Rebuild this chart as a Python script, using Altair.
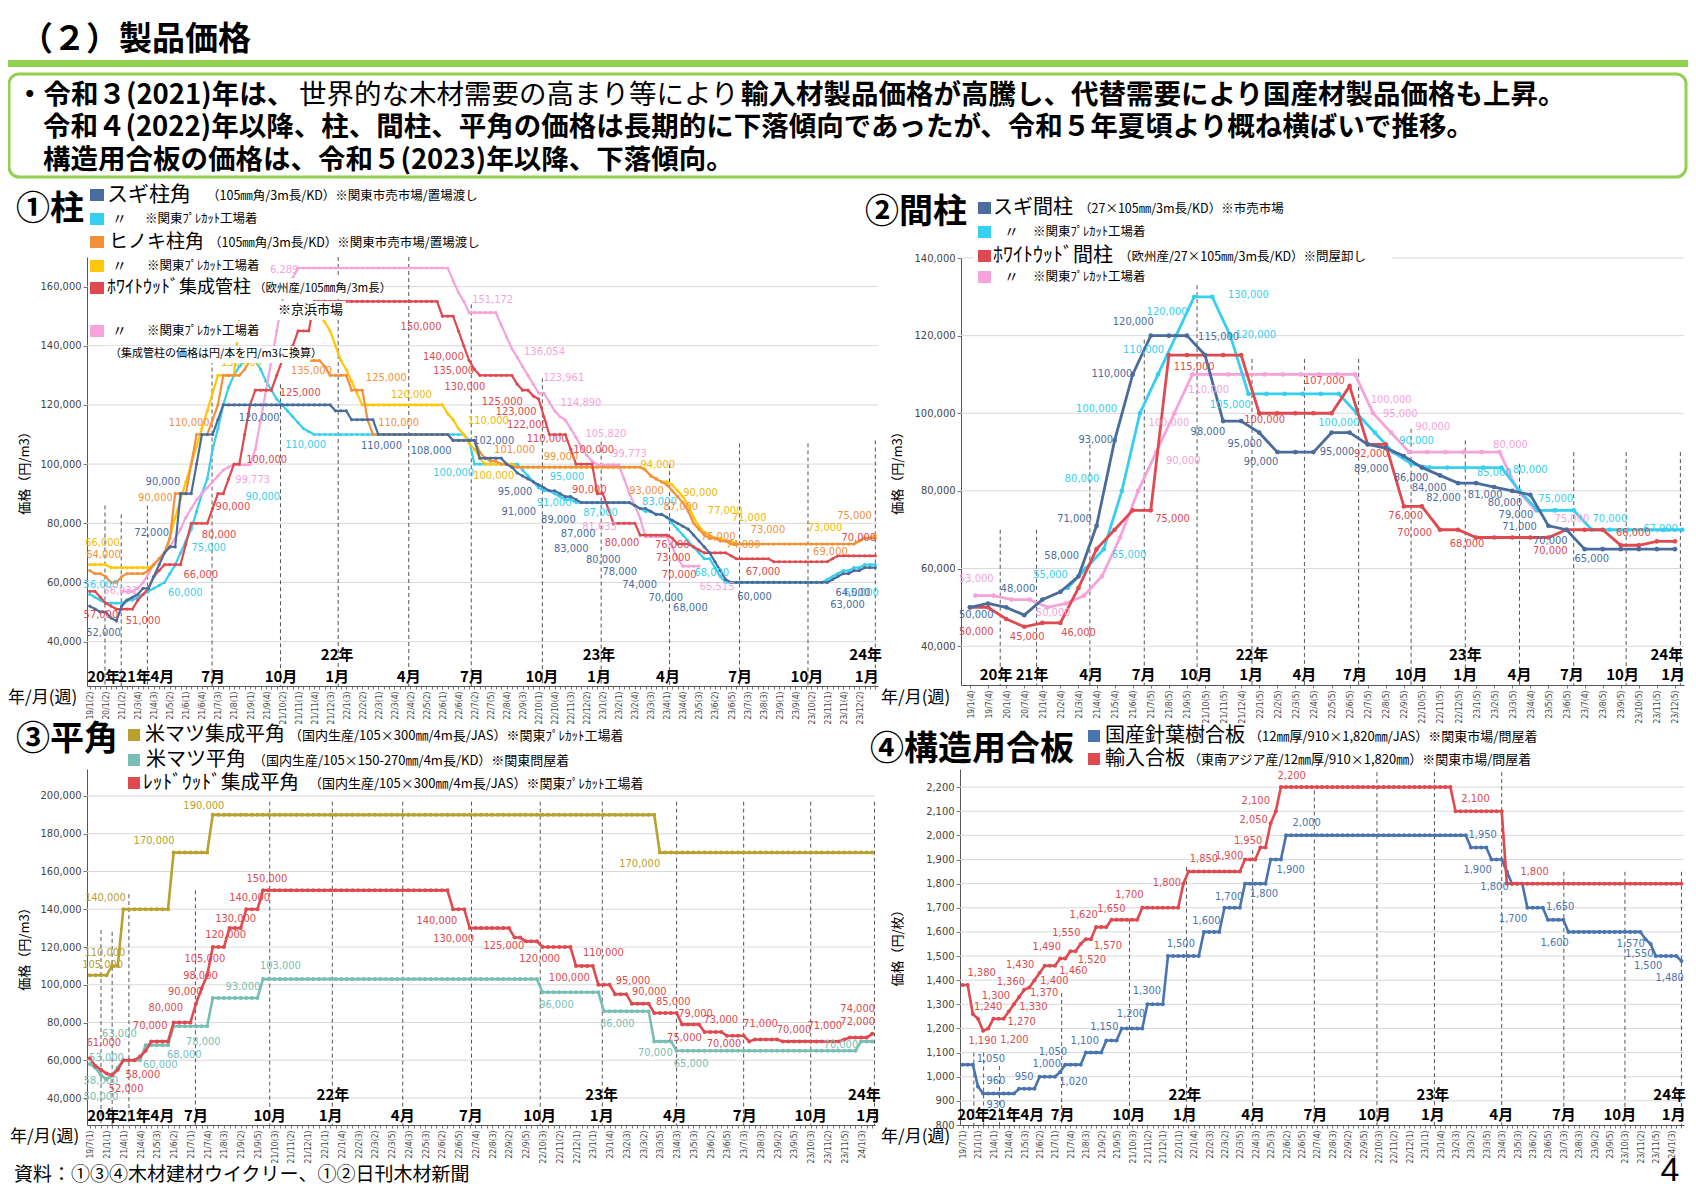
import altair as alt
import pandas as pd

W, H = 1680, 1183
JP = "Noto Sans CJK JP"
NUM = "Liberation Sans Narrow, DejaVu Sans Condensed, Liberation Sans, Arial, sans-serif"
ONE = alt.Data(values=[{"k": 0}])

# ---------------- x-axis tick labels (weekly / monthly categories) ----------------
p1_ticks = ["19/1(2)","20/1(2)","21/1(2)","21/3(4)","21/4(3)","21/5(2)","21/6(1)","21/6(4)","21/7(3)","21/8(1)",
            "21/9(1)","21/9(4)","21/10(2)","21/11(1)","21/11(4)","21/12(3)","22/1(3)","22/2(2)","22/3(1)","22/3(4)",
            "22/4(2)","22/5(2)","22/6(1)","22/6(4)","22/7(2)","22/7(5)","22/8(4)","22/9(3)","22/10(1)","22/10(4)",
            "22/11(3)","22/12(2)","23/1(2)","23/2(1)","23/2(4)","23/3(3)","23/4(1)","23/4(4)","23/5(3)","23/6(2)",
            "23/6(5)","23/7(3)","23/8(3)","23/9(1)","23/9(4)","23/10(2)","23/11(1)","23/11(4)","23/12(2)"]
p2_ticks = ["19/1(4)","19/7(4)","20/1(4)","20/7(4)","21/1(4)","21/2(4)","21/3(4)","21/4(4)","21/5(4)","21/6(4)",
            "21/7(5)","21/8(5)","21/9(5)","21/10(5)","21/11(5)","21/12(4)","22/1(5)","22/2(5)","22/3(5)","22/4(5)",
            "22/5(5)","22/6(5)","22/7(5)","22/8(5)","22/9(5)","22/10(5)","22/11(5)","22/12(5)","23/1(5)","23/2(5)",
            "23/3(5)","23/4(4)","23/5(5)","23/6(5)","23/7(4)","23/8(5)","23/9(5)","23/10(5)","23/11(5)","23/12(5)"]
p34_ticks = ["19/7(1)","21/1(1)","21/4(1)","21/4(4)","21/5(3)","21/6(2)","21/7(1)","21/7(4)","21/8(3)","21/9(2)",
             "21/9(5)","21/10(3)","21/11(2)","21/12(1)","22/1(1)","22/1(4)","22/2(3)","22/3(2)","22/3(5)","22/4(3)",
             "22/5(3)","22/6(2)","22/6(5)","22/7(4)","22/8(3)","22/9(2)","22/9(5)","22/10(3)","22/11(2)","22/12(1)",
             "23/1(1)","23/1(4)","23/2(3)","23/3(2)","23/3(5)","23/4(3)","23/5(3)","23/6(2)","23/6(5)","23/7(3)",
             "23/8(3)","23/9(2)","23/9(5)","23/10(3)","23/11(2)","23/11(5)","24/1(3)"]

months_txt = ["20年","21年","4月","7月","10月","1月","4月","7月","10月","1月","4月","7月","10月","1月"]
years_txt = ["22年","23年","24年"]
p1_month_at = [2.6,8.4,13.6,23.1,35.8,46.3,59.7,71.5,84.6,95.3,108.2,121.7,134.2,145.4]
p1_year_at = [46.3,95.3,145.2]
p2_month_at = [1.44,3.43,6.7,9.6,12.5,15.55,18.5,21.3,24.4,27.4,30.4,33.3,36.1,38.9]
p2_year_at = [15.6,27.4,38.55]
p3_month_at = [2.45,8.0,13.0,19.0,32.2,43.1,56.0,68.2,80.5,91.6,104.7,117.2,129.0,139.3]
p3_year_at = [43.5,91.6,138.6]
p4_month_at = [2.13,8.17,13.6,19.5,32.4,43.3,56.6,68.7,80.2,91.6,104.9,117.1,128.0,138.5]
p4_year_at = [43.3,91.6,137.7]

# dashed month separators: category position and top value
p1_dash_x = [2.86,5.9,10.8,22.9,35.7,46.5,59.7,71.4,84.7,95.7,108.5,121.6,134.4,147.0]
p1_dash_top = [86,83,86,135,127,170,170,154,129,107.6,100,107,107,108]
p2_dash_x = [1.67,3.68,6.63,9.64,12.56,15.6,18.5,21.5,24.4,27.4,30.4,33.4,36.3,39.3]
p2_dash_top = [70,70,92,119,133,114,114,114,96,93,87,90,90,90]
p3_dash_x = [2.0,4.0,7.0,18.9,32.2,43.4,56.0,68.3,80.6,91.7,105.0,117.0,129.0,140.4]
p3_dash_top = [129,128,148,150,197,197,197,197,197,197,197,197,197,197]
p4_dash_x = [2.2,4.1,7.2,19.3,32.5,43.6,56.5,68.5,80.7,91.9,105.0,117.1,129.0,140.0]
p4_dash_top = [1100,1100,1044,1347,1650,1870,1939,2186,2262,2262,2262,1849,1849,1849]

# ---------------- ① 柱 (千円/m3, weekly; [value, number of weeks]) ----------------
p1_sugi_ichiba = [(52,1),(51,1),(50,2),(48,1),(47,1),(52,1),(54,1),(55,1),(56,1),(58,2),(62,1),(66,1),(70,1),(72,2),
                  (90,3),(100,1),(110,3),(115,1),(120,21),(118,3),(115,5),(110,14),(108,5),(102,5),
                  (100,1),(99,1),(97,1),(96,1),(95,1),(94,1),(93,1),(92,1),(91,2),(90,1),(89,2),(88,1),(87,10),
                  (86,1),(85,2),(84,1),(83,2),(82,1),(81,1),(80,1),(79,1),(78,1),(76,1),(74,1),(72,1),(70,1),(67,1),
                  (64,1),(61,1),(60,19),(61,1),(62,1),(63,2),(64,2),(65,3)]
p1_sugi_precut = [(56,1),(55,1),(54,1),(53,4),(54,2),(55,1),(56,1),(57,1),(58,1),(59,1),
                  (60,1),(63,1),(66,1),(70,1),(74,1),(78,1),(84,1),(90,1),(95,1),(105,1),(112,1),(120,1),(126,1),
                  (130,1),(133,1),(135,3),(132,1),(128,1),(125,1),(122,1),(120,1),(118,1),(116,1),(114,1),(112,1),
                  (111,1),(110,29),(108,1),(100,9),(98,1),(96,1),(94,1),(92,1),(91,2),(90,1),(89,1),(88,2),(87,11),
                  (86,1),(85,1),(84,2),(83,2),(82,1),(80,1),(78,1),(76,1),(74,1),(72,1),(70,1),(68,2),(65,1),(62,1),
                  (60,19),(61,1),(62,1),(63,1),(64,2),(65,2),(66,3)]
p1_hinoki_ichiba = [(64,1),(63,2),(62,1),(60,2),(62,1),(63,4),(64,1),(66,1),(68,1),(70,1),
                    (75,1),(90,3),(100,1),(110,3),(115,1),(120,1),(130,4),(132,1),(135,14),(133,1),(130,4),(125,3),
                    (115,1),(110,15),(108,5),(104,1),(102,1),(101,2),(100,2),(99,25),
                    (98,1),(96,1),(95,1),(94,1),(93,1),(91,1),(89,1),(87,1),(84,1),(80,1),(78,1),(76,1),(75,2),(74,2),
                    (73,24),(74,1),(75,3)]
p1_hinoki_precut = [(66,4),(65,8),(66,1),(68,1),(70,1),(75,1),(82,1),(88,1),(94,1),(100,1),(106,1),(112,1),(118,1),
                    (124,1),(130,4),(150,16),(148,1),(145,1),(140,1),(135,1),(132,1),(128,1),(124,1),(120,16),
                    (117,1),(115,1),(112,1),(110,1),(107,1),(105,1),(102,1),(100,6),(99,24),
                    (98,1),(96,1),(95,1),(94,2),(93,1),(91,1),(89,1),(86,1),(82,1),(79,1),(77,1),(76,1),(75,2),(74,2),
                    (73,23),(74,1),(75,2),(76,1)]
p1_ww_keihin = [(57,2),(55,1),(53,1),(52,1),(51,4),(54,1),(56,1),(58,1),(62,1),(64,1),(66,4),
                (73,1),(80,4),(85,1),(90,2),(95,1),(100,2),(110,1),(120,1),(125,4),(130,1),(135,2),(140,1),(145,3),
                (155,24),(150,3),(145,1),(140,1),(135,1),(132,1),(130,7),(127,1),(125,2),(123,1),(122,1),(116,1),
                (110,4),(105,1),(100,4),(90,2),(85,1),(80,5),(76,6),
                (75,1),(73,3),(72,1),(71,1),(70,5),(69,1),(68,7),(67,11),(68,1),(69,8)]
p1_ww_precut = [(57,3),(58,1),(60,1),(63,1),(66,1),(68,1),(70,1),(72,1),(75,1),(78,1),(82,1),(85,1),(88,1),(90,1),
                (92,1),(94,1),(96,1),(98,1),(99,1),(99.773,4),(105,1),(115,1),(125,1),(135,1),(145,1),(155,1),
                (160,1),(163,1),(166.289,29),(162,1),(158,1),(155,1),(151.172,6),(147,1),(143,1),(139,1),
                (136.054,1),(133,1),(130,1),(127,1),(124,1),(123.961,1),(121,1),(118,1),(116,1),(114.89,1),
                (112,1),(109,1),(105.82,1),(103,1),(101,1),(99.773,5),(95,1),(90,1),(86,1),(81.633,1),
                (75.51,5),(72,1),(68,1),(65.515,4)]

p1_sugi_ichiba_lab = [(2.6,43.0,"52,000"),(11.6,76.8,"72,000"),(13.7,94.1,"90,000"),(31.7,115.5,"120,000"),
                      (54.6,106.1,"110,000"),(63.9,104.5,"108,000"),(75.6,107.9,"102,000"),(79.6,90.5,"95,000"),
                      (80.3,83.9,"91,000"),(87.7,81.1,"89,000"),(91.4,76.3,"87,000"),(90.1,71.3,"83,000"),
                      (96.1,67.6,"80,000"),(99.2,63.7,"78,000"),(102.9,59.2,"74,000"),(107.8,54.9,"70,000"),
                      (112.4,51.3,"68,000"),(124.4,55.2,"60,000"),(142.8,56.3,"64,000"),(141.8,52.4,"63,000")]
p1_sugi_precut_lab = [(2.1,59.2,"56,000"),(17.9,56.3,"60,000"),(22.3,71.5,"75,000"),(32.4,89.0,"90,000"),
                      (40.4,106.5,"110,000"),(68.1,97.1,"100,000"),(89.3,95.8,"95,000"),(86.9,86.8,"91,000"),
                      (95.6,83.4,"87,000"),(106.6,87.3,"83,000"),(116.4,63.1,"68,000"),(144.4,56.3,"65,000")]
p1_hinoki_ichiba_lab = [(2.6,69.3,"64,000"),(12.3,88.7,"90,000"),(18.6,114.0,"110,000"),(41.5,131.3,"135,000"),
                        (55.5,129.0,"125,000"),(57.8,113.8,"110,000"),(79.5,104.6,"101,000"),(88.2,102.3,"99,000"),
                        (104.2,91.0,"93,000"),(110.6,85.6,"87,000"),(117.6,75.3,"75,000"),(122.3,72.7,"74,000"),
                        (126.9,77.7,"73,000"),(138.6,70.4,"69,000"),(143.1,82.3,"75,000")]
p1_hinoki_precut_lab = [(2.4,73.2,"66,000"),(28.4,134.1,"130,000"),(60.2,123.2,"120,000"),(74.6,114.7,"110,000"),
                        (75.6,96.0,"100,000"),(106.3,99.7,"94,000"),(114.3,90.4,"90,000"),(118.9,84.2,"77,000"),
                        (123.4,81.7,"71,000"),(137.6,78.3,"73,000")]
p1_ww_keihin_lab = [(2.1,49.0,"57,000"),(10.0,47.1,"51,000"),(20.8,62.5,"66,000"),(24.2,76.1,"80,000"),
                    (26.8,85.6,"90,000"),(33.1,101.4,"100,000"),(39.4,124.2,"125,000"),(62.0,146.5,"150,000"),
                    (66.2,136.3,"140,000"),(68.1,131.3,"135,000"),(70.2,126.2,"130,000"),(77.2,121.1,"125,000"),
                    (79.8,117.5,"123,000"),(81.9,113.2,"122,000"),(85.6,108.4,"110,000"),(94.3,104.8,"100,000"),
                    (93.5,91.3,"90,000"),(99.6,73.5,"80,000"),(109.0,72.7,"76,000"),(109.2,68.2,"73,000"),
                    (110.3,62.5,"70,000"),(126.0,63.7,"67,000"),(143.9,74.9,"70,000")]
p1_ww_precut_lab = [(35.2,165.6,"166,289"),(75.4,155.5,"151,172"),(85.1,138.0,"136,054"),(88.7,129.0,"123,961"),
                    (91.9,120.6,"114,890"),(96.6,110.1,"105,820"),(101.0,103.4,"99,773"),(30.5,94.6,"99,773"),
                    (95.4,78.9,"81,633"),(117.4,58.3,"65,515"),(5.8,57.2,"56,931")]

# ---------------- ② 間柱 (千円/m3, monthly) ----------------
p2_sugi_ichiba = [(50,1),(51,1),(50,1),(48,1),(52,1),(54,1),(58,1),(71,1),(93,1),(110,1),(120,3),(115,1),(98,2),
                  (95,1),(90,3),(95,2),(92,1),(91,1),(89,1),(86,1),(84,1),(82,2),(81,1),(80,1),(79,1),(71,1),
                  (70,1),(65,6)]
p2_sugi_precut = [(55,1),(60,1),(65,1),(80,1),(100,1),(110,1),(120,1),(130,2),(120,1),(105,6),(100,1),(95,1),
                  (90,1),(87,1),(86,5),(80,1),(75,3),(70,6)]
p2_ww_ton = [(50,2),(47,1),(45,1),(46,2),(55,1),(65,1),(70,1),(75,2),(115,5),(100,5),(107,1),(92,2),(76,2),
             (70,2),(68,5),(70,3),(66,2),(67,2)]
p2_ww_precut = [(53,2),(52,2),(50,1),(51,1),(53,1),(58,1),(68,1),(80,1),(90,1),(100,1),(110,10),(100,1),(95,1),
                (90,6),(80,1),(75,2)]

p2_sugi_ichiba_lab = [(0.35,48.0,"50,000"),(2.65,54.8,"48,000"),(5.07,63.3,"58,000"),(5.78,72.8,"71,000"),
                      (6.96,93.2,"93,000"),(7.85,110.2,"110,000"),(9.03,123.4,"120,000"),(13.75,119.6,"115,000"),
                      (13.16,95.3,"98,000"),(15.2,92.1,"95,000"),(16.1,87.4,"90,000"),(20.3,90.0,"95,000"),
                      (22.2,85.7,"89,000"),(24.4,83.3,"86,000"),(25.4,80.8,"84,000"),(26.2,78.2,"82,000"),
                      (28.5,79.0,"81,000"),(29.6,76.9,"80,000"),(30.2,73.9,"79,000"),(30.4,70.7,"71,000"),
                      (32.1,67.0,"70,000"),(34.4,62.5,"65,000")]
p2_sugi_precut_lab = [(4.45,58.4,"55,000"),(8.8,63.6,"65,000"),(6.2,83.1,"80,000"),(7.0,101.1,"100,000"),
                      (9.6,116.4,"110,000"),(10.9,126.2,"120,000"),(15.4,130.5,"130,000"),(15.8,120.2,"120,000"),
                      (14.4,102.2,"105,000"),(20.4,97.5,"100,000"),(24.7,92.8,"90,000"),(29.0,84.6,"85,000"),
                      (31.0,85.5,"80,000"),(32.4,77.9,"75,000"),(35.4,72.8,"70,000"),(38.2,70.2,"67,000")]
p2_ww_ton_lab = [(0.35,43.6,"50,000"),(3.16,42.4,"45,000"),(6.0,43.4,"46,000"),(11.2,72.8,"75,000"),
                 (12.4,111.9,"115,000"),(16.3,98.2,"100,000"),(19.6,108.2,"107,000"),(22.2,89.6,"92,000"),
                 (24.1,73.5,"76,000"),(24.6,69.2,"70,000"),(27.5,66.2,"68,000"),(32.1,64.5,"70,000"),
                 (36.7,69.2,"66,000")]
p2_ww_precut_lab = [(0.35,57.2,"53,000"),(4.6,48.6,"50,000"),(11.8,87.6,"90,000"),(11.0,97.5,"100,000"),
                    (13.2,106.1,"110,000"),(23.3,103.5,"100,000"),(23.8,99.8,"95,000"),(25.6,96.5,"90,000"),
                    (29.9,91.9,"80,000"),(33.3,72.8,"75,000")]

# ---------------- ③ 平角 (千円/m3, weekly) ----------------
p3_beimatsu_shusei = [(105,4),(110,2),(140,9),(170,7),(190,80),(170,39)]
p3_beimatsu = [(58,1),(56,1),(52,1),(50,1),(52,1),(56,1),(60,4),(68,5),(78,7),(93,9),(103,50),(96,11),(86,9),
               (70,4),(65,33),(70,3)]
p3_redwood = [(61,1),(57,1),(55,1),(53,1),(52,1),(55,1),(60,3),(62,1),(65,1),(70,4),(80,4),(90,1),(98,1),(105,1),
              (120,3),(130,3),(140,3),(150,34),(140,3),(130,8),(125,2),(123,3),(120,6),(110,4),(100,3),(95,3),
              (90,4),(85,5),(79,4),(75,4),(73,4),(70,1),(71,5),(70,11),(71,1),(72,4),(74,1)]

p3_beimatsu_shusei_lab = [(2.3,110.4,"105,000"),(2.7,116.6,"110,000"),(2.8,145.7,"140,000"),
                          (11.5,176.3,"170,000"),(20.4,194.7,"190,000"),(98.4,163.9,"170,000")]
p3_beimatsu_lab = [(2.0,49.0,"58,000"),(2.0,40.5,"50,000"),(3.0,61.4,"53,000"),(5.3,74.1,"63,000"),
                   (12.6,57.3,"60,000"),(16.9,62.6,"68,000"),(20.3,69.7,"78,000"),(27.4,98.9,"93,000"),
                   (34.1,110.0,"103,000"),(83.5,89.2,"96,000"),(94.4,79.1,"86,000"),(101.2,63.9,"70,000"),
                   (107.6,58.2,"65,000"),(134.4,67.9,"70,000")]
p3_redwood_lab = [(2.5,69.2,"61,000"),(6.5,45.0,"52,000"),(9.5,52.0,"58,000"),(10.8,78.2,"70,000"),
                  (13.6,87.9,"80,000"),(17.1,96.2,"90,000"),(19.8,104.5,"98,000"),(20.6,113.9,"105,000"),
                  (24.3,126.6,"120,000"),(26.1,134.8,"130,000"),(28.6,146.1,"140,000"),(31.7,156.2,"150,000"),
                  (62.1,133.7,"140,000"),(65.1,124.0,"130,000"),(74.1,120.4,"125,000"),(80.5,113.5,"120,000"),
                  (91.9,116.9,"110,000"),(85.8,103.6,"100,000"),(97.2,102.1,"95,000"),(100.1,96.2,"90,000"),
                  (104.4,90.9,"85,000"),(108.4,84.4,"79,000"),(106.4,72.0,"75,000"),(112.9,81.5,"73,000"),
                  (113.5,68.8,"70,000"),(120.0,79.1,"71,000"),(126.0,76.2,"70,000"),(131.5,78.0,"71,000"),
                  (137.4,86.9,"74,000"),(137.4,80.3,"72,000")]

# ---------------- ④ 構造用合板 (円/枚, weekly) ----------------
p4_kokusan = [(1050,3),(960,1),(930,7),(950,4),(1000,4),(1020,1),(1050,4),(1100,4),(1150,3),(1200,5),(1300,4),
              (1500,7),(1600,4),(1700,4),(1800,5),(1900,3),(2000,36),(1950,4),(1900,3),(1850,1),(1800,3),
              (1700,4),(1650,4),(1600,15),(1570,1),(1550,1),(1500,5),(1480,1)]
p4_yunyu = [(1380,2),(1260,1),(1240,1),(1190,1),(1200,1),(1240,3),(1270,1),(1300,1),(1330,1),(1360,1),(1370,1),
            (1400,1),(1430,1),(1460,3),(1490,2),(1520,2),(1550,1),(1570,2),(1620,3),(1650,6),(1700,8),(1800,1),
            (1850,11),(1900,3),(1950,2),(2050,1),(2100,1),(2200,34),(2100,10),(1800,35)]

p4_kokusan_lab = [(5.5,1075,"1,050"),(6.5,983,"960"),(6.5,882,"930"),(12.0,1000,"950"),(16.4,1051,"1,000"),
                  (17.6,1102,"1,050"),(21.6,978,"1,020"),(23.8,1148,"1,100"),(27.6,1207,"1,150"),
                  (32.8,1258,"1,200"),(35.9,1354,"1,300"),(42.5,1551,"1,500"),(47.5,1647,"1,600"),
                  (51.9,1746,"1,700"),(58.7,1757,"1,800"),(63.9,1856,"1,900"),(67.0,2051,"2,000"),
                  (101.3,2001,"1,950"),(100.3,1856,"1,900"),(103.6,1787,"1,800"),(107.2,1654,"1,700"),
                  (116.4,1702,"1,650"),(115.3,1556,"1,600"),(130.1,1549,"1,570"),(131.8,1508,"1,550"),
                  (133.5,1457,"1,500"),(137.7,1409,"1,480")]
p4_yunyu_lab = [(3.7,1430,"1,380"),(5.0,1289,"1,240"),(6.5,1333,"1,300"),(3.9,1148,"1,190"),(10.1,1152,"1,200"),
                (9.4,1391,"1,360"),(11.2,1464,"1,430"),(11.5,1226,"1,270"),(13.8,1289,"1,330"),
                (15.9,1347,"1,370"),(17.9,1395,"1,400"),(16.4,1537,"1,490"),(21.6,1437,"1,460"),
                (20.2,1595,"1,550"),(25.2,1485,"1,520"),(28.3,1540,"1,570"),(23.6,1670,"1,620"),
                (29.0,1694,"1,650"),(32.5,1753,"1,700"),(39.8,1804,"1,800"),(47.0,1904,"1,850"),
                (51.9,1914,"1,900"),(55.6,1977,"1,950"),(56.7,2065,"2,050"),(57.1,2142,"2,100"),
                (64.1,2244,"2,200"),(99.9,2152,"2,100"),(111.4,1849,"1,800")]


# ---------------- helpers ----------------
def runs_df(runs, start, unit):
    xs, ys = [], []
    pos = start
    for v, n in runs:
        for _ in range(n):
            xs.append(pos)
            ys.append(v * unit)
            pos += 1
    return pd.DataFrame({"x": xs, "y": ys})


def lab_df(items, unit):
    return pd.DataFrame({"x": [a for a, b, c in items], "y": [b * unit for a, b, c in items],
                         "t": [c for a, b, c in items]})


def T(s, x, y, size, color="#000000", weight="normal", align="left", font=JP, angle=None):
    kw = dict(text=s, fontSize=size, color=color, fontWeight=weight, align=align, baseline="middle", font=font)
    if angle is not None:
        kw["angle"] = angle
    return alt.Chart(ONE).mark_text(**kw).encode(x=alt.value(x), y=alt.value(y))


def R(x, y, x2, y2, fill, stroke=None, sw=0, r=0):
    kw = dict(fill=fill, cornerRadius=r)
    if stroke:
        kw.update(stroke=stroke, strokeWidth=sw)
    return alt.Chart(ONE).mark_rect(**kw).encode(x=alt.value(x), y=alt.value(y), x2=alt.value(x2), y2=alt.value(y2))


def make_panel(N, xr, ydom, yr, yticks, grid, ticks, every, dash_x, dash_top, month_at, year_at,
               month_y, year_y, series, unit, lw, psize):
    sx = alt.Scale(domain=[-0.5, N - 0.5], range=list(xr), nice=False, zero=False)
    sy = alt.Scale(domain=list(ydom), range=list(yr), nice=False, zero=False)
    arr = "[" + ",".join("'" + t + "'" for t in ticks) + "]"
    L = len(ticks)
    if every == 1:
        expr = "datum.value < %d ? %s[datum.value] : ''" % (L, arr)
    else:
        expr = "(datum.value %% %d == 0 && datum.value / %d < %d) ? %s[datum.value / %d] : ''" % (
            every, every, L, arr, every)
    ax_x = alt.Axis(orient="bottom", offset=yr[0] - H, values=list(range(N)), labelExpr=expr, labelAngle=270,
                    labelAlign="right", labelBaseline="middle", labelFontSize=8.5, labelFont=NUM,
                    labelColor="#444444", labelPadding=2, labelOverlap=False, labelFlush=False, tickSize=3,
                    tickColor="#777777", domainColor="#555555", grid=False, title=None)
    ax_y = alt.Axis(orient="left", offset=-xr[0], values=yticks, format=",.0f", labelFontSize=11, labelFont=NUM,
                    labelColor="#444444", tickSize=4, tickColor="#777777", domainColor="#555555", grid=False,
                    title=None, labelOverlap=False, labelFlush=False)

    def X(f):
        return alt.X(f, type="quantitative", scale=sx, axis=ax_x)

    def Y(f):
        return alt.Y(f, type="quantitative", scale=sy, axis=ax_y)

    layers = []
    layers.append(alt.Chart(pd.DataFrame({"v": grid})).mark_rule(color="#D9D9D9", strokeWidth=1)
                  .encode(y=Y("v"), x=alt.value(xr[0]), x2=alt.value(xr[1])))
    layers.append(alt.Chart(pd.DataFrame({"x": dash_x, "y": [t * unit for t in dash_top]}))
                  .mark_rule(color="#555555", strokeWidth=1, strokeDash=[4, 3])
                  .encode(x=X("x"), y=Y("y"), y2=alt.value(yr[0])))
    for s in series:
        df = runs_df(s["runs"], s["start"], unit)
        layers.append(alt.Chart(df).mark_line(color=s["color"], strokeWidth=lw,
                                              point=alt.OverlayMarkDef(filled=True, color=s["color"], size=psize,
                                                                       opacity=1))
                      .encode(x=X("x"), y=Y("y")))
    for s in series:
        layers.append(alt.Chart(lab_df(s["labels"], unit)).mark_text(font=NUM, fontSize=11, color=s["lab"])
                      .encode(x=X("x"), y=Y("y"), text="t:N"))
    layers.append(alt.Chart(pd.DataFrame({"x": month_at, "t": months_txt}))
                  .mark_text(font=JP, fontSize=15, fontWeight="bold", color="#000000")
                  .encode(x=X("x"), y=alt.value(month_y), text="t:N"))
    layers.append(alt.Chart(pd.DataFrame({"x": year_at, "t": years_txt}))
                  .mark_text(font=JP, fontSize=15, fontWeight="bold", color="#000000")
                  .encode(x=X("x"), y=alt.value(year_y), text="t:N"))
    return alt.layer(*layers)


C_SUGI = "#4A6C9C"; C_CYAN = "#36CFEF"; C_ORANGE = "#F2913A"; C_YELLOW = "#FFC60A"
C_RED = "#DE4A4F"; C_PINK = "#F5A3DA"; C_GOLD = "#B8A12E"; C_TEAL = "#79BEB4"; C_BLUE4 = "#4A74B0"

p1 = make_panel(148, (79, 870), (25000, 170000), (678, 249), list(range(40000, 160001, 20000)),
                list(range(40000, 160001, 20000)), p1_ticks, 3, p1_dash_x, p1_dash_top,
                p1_month_at, p1_year_at, 669, 647,
                [dict(runs=p1_sugi_precut, start=0, color=C_CYAN, lab=C_CYAN, labels=p1_sugi_precut_lab),
                 dict(runs=p1_hinoki_precut, start=0, color=C_YELLOW, lab="#F0BA00", labels=p1_hinoki_precut_lab),
                 dict(runs=p1_ww_precut, start=6, color=C_PINK, lab=C_PINK, labels=p1_ww_precut_lab),
                 dict(runs=p1_hinoki_ichiba, start=0, color=C_ORANGE, lab=C_ORANGE, labels=p1_hinoki_ichiba_lab),
                 dict(runs=p1_ww_keihin, start=0, color=C_RED, lab=C_RED, labels=p1_ww_keihin_lab),
                 dict(runs=p1_sugi_ichiba, start=0, color=C_SUGI, lab=C_SUGI, labels=p1_sugi_ichiba_lab)],
                1000, 2.2, 10)

p2 = make_panel(40, (953, 1676), (30000, 140000), (677, 250), list(range(40000, 140001, 20000)),
                list(range(40000, 140001, 20000)), p2_ticks, 1, p2_dash_x, p2_dash_top,
                p2_month_at, p2_year_at, 667, 647,
                [dict(runs=p2_ww_precut, start=0.3, color=C_PINK, lab=C_PINK, labels=p2_ww_precut_lab),
                 dict(runs=p2_sugi_precut, start=5.4, color=C_CYAN, lab=C_CYAN, labels=p2_sugi_precut_lab),
                 dict(runs=p2_ww_ton, start=0, color=C_RED, lab=C_RED, labels=p2_ww_ton_lab),
                 dict(runs=p2_sugi_ichiba, start=0, color=C_SUGI, lab=C_SUGI, labels=p2_sugi_ichiba_lab)],
                1000, 2.8, 22)

p3 = make_panel(141, (79, 867), (25700, 214300), (1117, 761), list(range(40000, 200001, 20000)),
                list(range(40000, 200001, 20000)), p34_ticks, 3, p3_dash_x, p3_dash_top,
                p3_month_at, p3_year_at, 1108, 1087,
                [dict(runs=p3_beimatsu_shusei, start=0, color=C_GOLD, lab=C_GOLD, labels=p3_beimatsu_shusei_lab),
                 dict(runs=p3_beimatsu, start=0, color=C_TEAL, lab=C_TEAL, labels=p3_beimatsu_lab),
                 dict(runs=p3_redwood, start=0, color=C_RED, lab=C_RED, labels=p3_redwood_lab)],
                1000, 2.6, 16)

p4 = make_panel(141, (952, 1676), (800, 2275), (1117, 761), [800] + list(range(900, 2201, 100)),
                list(range(900, 2201, 100)), p34_ticks, 3, p4_dash_x, p4_dash_top,
                p4_month_at, p4_year_at, 1107, 1087,
                [dict(runs=p4_kokusan, start=0, color=C_BLUE4, lab=C_BLUE4, labels=p4_kokusan_lab),
                 dict(runs=p4_yunyu, start=0, color=C_RED, lab=C_RED, labels=p4_yunyu_lab)],
                1, 2.6, 16)

# ---------------- header / legends / notes ----------------
bg = [
    T("（２）製品価格", 12, 32, 33, weight="bold"),
    R(0, 52, 1680, 59, "#92D050"),
    R(1, 66, 1678, 169, "#FFFFFF", stroke="#92D050", sw=3, r=10),
    T("・令和３(2021)年は、", 8, 88, 27.5, weight="bold"),
    T("世界的な木材需要の高まり等により", 291, 88, 27.5),
    T("輸入材製品価格が高騰し、代替需要により国産材製品価格も上昇。", 733, 88, 27.5, weight="bold"),
    T("令和４(2022)年以降、柱、間柱、平角の価格は長期的に下落傾向であったが、令和５年夏頃より概ね横ばいで推移。",
      35, 120, 27.5, weight="bold"),
    T("構造用合板の価格は、令和５(2023)年以降、下落傾向。", 35, 153, 27.5, weight="bold"),
]

fg = [
    # panel titles
    T("①柱", 8, 202, 34, weight="bold"),
    T("②間柱", 857, 205, 34, weight="bold"),
    T("③平角", 8, 732, 34, weight="bold"),
    T("④構造用合板", 862, 742, 34, weight="bold"),
    # legend backgrounds (panel 1 / 2)
    R(80, 180, 490, 245, "#FFFFFF"), R(80, 248, 262, 268, "#FFFFFF"), R(80, 270, 372, 291, "#FFFFFF"),
    R(230, 293, 338, 312, "#FFFFFF"), R(80, 313, 262, 334, "#FFFFFF"), R(100, 338, 302, 355, "#FFFFFF"),
    R(966, 238, 1384, 258, "#FFFFFF"), R(966, 260, 1146, 279, "#FFFFFF"),
    # panel 1 legend
    R(82, 181, 96, 193, C_SUGI), T("スギ柱角", 99, 187, 21),
    T("（105㎜角/3m長/KD）※関東市売市場/置場渡し", 199, 188, 12.5),
    R(82, 205, 96, 217, C_CYAN), T("〃", 104, 211, 15), T("※関東ﾌﾟﾚｶｯﾄ工場着", 137, 211, 12.5),
    R(82, 228, 96, 240, C_ORANGE), T("ヒノキ柱角", 101, 234, 19),
    T("（105㎜角/3m長/KD）※関東市売市場/置場渡し", 201, 235, 12.5),
    R(82, 252, 96, 264, C_YELLOW), T("〃", 104, 258, 15), T("※関東ﾌﾟﾚｶｯﾄ工場着", 139, 258, 12.5),
    R(82, 274, 96, 286, C_RED), T("ﾎﾜｲﾄｳｯﾄﾞ集成管柱", 99, 280, 18),
    T("（欧州産/105㎜角/3m長）", 246, 281, 11.5),
    T("※京浜市場", 270, 302, 13),
    R(82, 317, 96, 329, C_PINK), T("〃", 104, 323, 15), T("※関東ﾌﾟﾚｶｯﾄ工場着", 139, 323, 12.5),
    T("（集成管柱の価格は円/本を円/m3に換算）", 102, 346, 11),
    # panel 2 legend
    R(970, 194, 983, 206, C_SUGI), T("スギ間柱", 985, 200, 20),
    T("（27×105㎜/3m長/KD）※市売市場", 1071, 201, 12.5),
    R(970, 218, 983, 230, C_CYAN), T("〃", 996, 224, 15), T("※関東ﾌﾟﾚｶｯﾄ工場着", 1025, 224, 12.5),
    R(970, 242, 983, 254, C_RED), T("ﾎﾜｲﾄｳｯﾄﾞ間柱", 985, 248, 20),
    T("（欧州産/27×105㎜/3m長/KD）※問屋卸し", 1111, 249, 12.5),
    R(970, 263, 983, 275, C_PINK), T("〃", 996, 269, 15), T("※関東ﾌﾟﾚｶｯﾄ工場着", 1025, 269, 12.5),
    # panel 3 legend
    R(120, 721, 132, 733, C_GOLD), T("米マツ集成平角", 137, 727, 20),
    T("（国内生産/105×300㎜/4m長/JAS）※関東ﾌﾟﾚｶｯﾄ工場着", 281, 728, 13),
    R(120, 746, 132, 758, C_TEAL), T("米マツ平角", 138, 752, 20),
    T("（国内生産/105×150-270㎜/4m長/KD）※関東問屋着", 245, 753, 13),
    R(120, 769, 132, 781, C_RED), T("ﾚｯﾄﾞｳｯﾄﾞ集成平角", 135, 775, 19.5),
    T("（国内生産/105×300㎜/4m長/JAS）※関東ﾌﾟﾚｶｯﾄ工場着", 301, 776, 13),
    # panel 4 legend
    R(1080, 722, 1092, 734, C_BLUE4), T("国産針葉樹合板", 1097, 728, 20),
    T("（12㎜厚/910×1,820㎜/JAS）※関東市場/問屋着", 1241, 729, 13),
    R(1080, 745, 1092, 757, C_RED), T("輸入合板", 1097, 751, 20),
    T("（東南アジア産/12㎜厚/910×1,820㎜）※関東市場/問屋着", 1180, 752, 13),
    # axis titles
    T("価格（円/m3）", 17, 462, 13, align="center", angle=270),
    T("価格（円/m3）", 890, 462, 13, align="center", angle=270),
    T("価格（円/m3）", 17, 938, 13, align="center", angle=270),
    T("価格（円/枚）", 890, 937, 13, align="center", angle=270),
    T("年/月(週)", 0, 690, 17), T("年/月(週)", 873, 690, 17),
    T("年/月(週)", 2, 1129, 17), T("年/月(週)", 873, 1129, 17),
    # footer
    T("資料：①③④木材建材ウイクリー、①②日刊木材新聞", 6, 1167, 19),
    T("4", 1662, 1163, 34, align="center", font="Liberation Sans, Arial, sans-serif"),
]

chart = (alt.layer(*bg, p1, p2, p3, p4, *fg)
         .resolve_scale(x="independent", y="independent")
         .properties(width=W, height=H, padding=0, autosize=alt.AutoSizeParams(type="none"))
         .configure_view(stroke=None))

chart.save("out.html", embed_options={"renderer": "svg", "actions": False})
